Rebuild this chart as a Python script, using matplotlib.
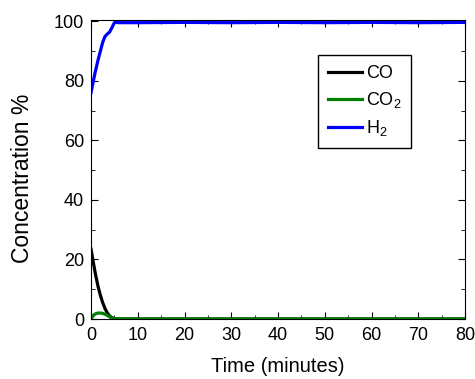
import matplotlib
matplotlib.use('Agg')
import matplotlib.pyplot as plt
from matplotlib.ticker import MultipleLocator
import numpy as np

plt.rcParams['font.family'] = ['Liberation Sans', 'DejaVu Sans']
plt.rcParams['mathtext.fontset'] = 'custom'
plt.rcParams['mathtext.rm'] = 'Liberation Sans'

# 시간(분)과 농도(%)
time = [0, 0.5, 0.9, 1.5, 2, 2.5, 3, 3.5, 4, 4.5, 5, 5.5, 6, 10, 20, 30, 40, 50, 60, 70, 80]
co = [23.5, 19, 15.5, 11, 8, 5.5, 3.5, 2, 1, 0.4, 0.1, 0, 0, 0, 0, 0, 0, 0, 0, 0, 0]
co2 = [0, 1.2, 1.7, 2.0, 2.0, 1.9, 1.6, 1.2, 0.7, 0.3, 0.1, 0, 0, 0, 0, 0, 0, 0, 0, 0, 0]
h2 = [76, 80, 83, 87, 90, 93, 95, 95.8, 96.5, 98, 99.6, 99.7, 99.6, 99.6, 99.7, 99.6, 99.7, 99.6, 99.7, 99.6, 99.7]

fig = plt.figure(figsize=(4.75, 3.79), dpi=100)
ax = fig.add_axes([91 / 475, 60 / 379, 374 / 475, 299 / 379])

ax.plot(time, co, color='black', lw=2.3, label='CO')
ax.plot(time, co2, color='green', lw=2.3, label=r'CO$_\mathregular{2}$')
ax.plot(time, h2, color='blue', lw=2.3, label=r'H$_\mathregular{2}$')

ax.set_xlim(0, 80)
ax.set_ylim(0, 100.5)
ax.set_xlabel('Time (minutes)', fontsize=14.5, labelpad=9)
ax.set_ylabel('Concentration %', fontsize=16.5)
ax.yaxis.set_label_coords(-0.152, 0.47)

# 눈금선 설정
ax.xaxis.set_major_locator(MultipleLocator(10))
ax.xaxis.set_minor_locator(MultipleLocator(5))
ax.yaxis.set_major_locator(MultipleLocator(20))
ax.yaxis.set_minor_locator(MultipleLocator(10))
ax.tick_params(which='both', direction='in', top=True, right=True, labelsize=13)
ax.tick_params(which='major', length=5)
ax.tick_params(which='minor', length=3)
ax.tick_params(axis='x', pad=6)
ax.tick_params(axis='y', pad=5)

ax.legend(loc='upper left', bbox_to_anchor=((318 - 91) / 374, (319 - 55) / 299), fontsize=13,
          fancybox=False, edgecolor='black', framealpha=1, handlelength=1.9,
          borderpad=0.55, labelspacing=0.45, handletextpad=0.2, borderaxespad=0)

fig.savefig('out.png', dpi=100)
